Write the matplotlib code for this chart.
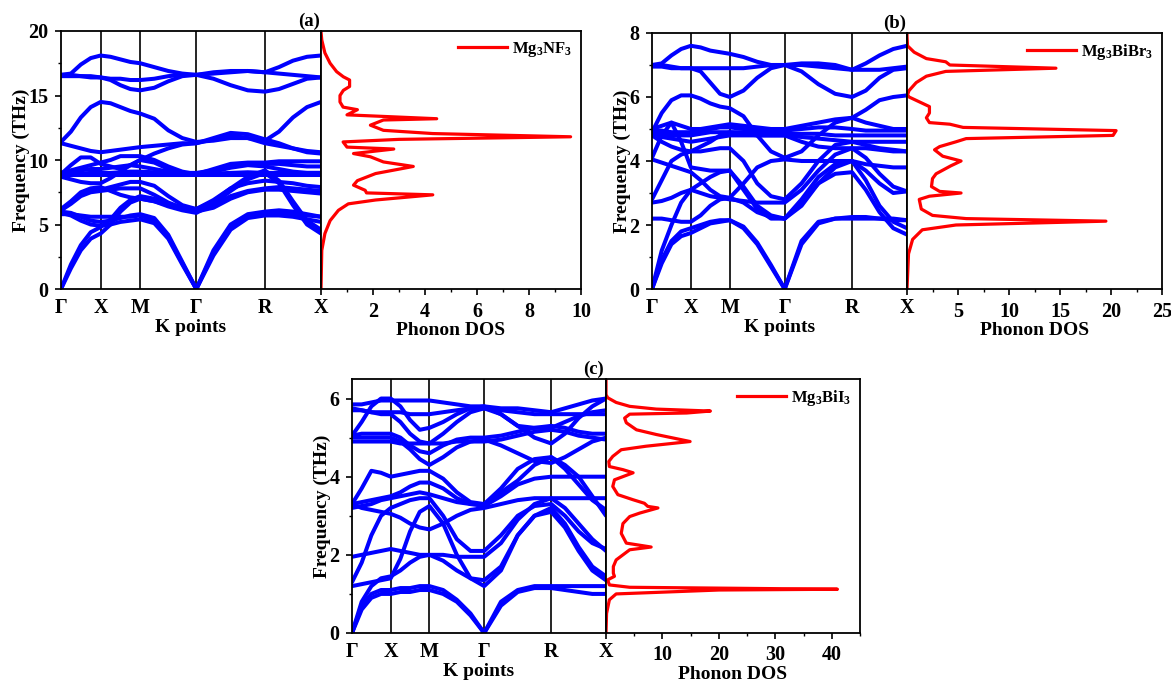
import numpy as np
import matplotlib
matplotlib.use("Agg")
import matplotlib.pyplot as plt
from matplotlib.ticker import MultipleLocator

plt.rcParams['font.family'] = ['Liberation Serif', 'DejaVu Serif']
plt.rcParams['font.weight'] = 'bold'
plt.rcParams['mathtext.fontset'] = 'custom'
plt.rcParams['mathtext.bf'] = 'Liberation Serif:bold'
plt.rcParams['mathtext.rm'] = 'Liberation Serif:bold'
plt.rcParams['mathtext.default'] = 'bf'

# ---------------- data ----------------
kpoint_labels = ['Γ', 'X', 'M', 'Γ', 'R', 'X']
segment_lengths = [0.5, 0.5, 0.7071, 0.8660, 0.7071]

# panel (a) Mg3NF3 : 21 samples along Γ-X-M-Γ-R-X (5 per segment)
bands_a = [
    [0, 1.6, 3.0, 3.9, 4.3, 5.0, 6.0, 6.7, 7.0, 6.8, 6.5, 6.2, 6.0, 6.3, 7.0, 7.5, 7.7, 7.7, 7.6, 7.5, 7.4],
    [0, 1.9, 3.4, 4.4, 4.8, 5.4, 6.3, 6.9, 7.2, 7.0, 6.6, 6.3, 6.1, 6.5, 7.2, 7.6, 7.8, 7.9, 7.8, 7.7, 7.6],
    [5.8, 5.8, 5.7, 5.6, 5.6, 5.6, 5.6, 5.6, 5.7, 5.3, 4.0, 2.0, 0, 2.8, 4.8, 5.7, 5.9, 5.9, 5.8, 5.7, 5.6],
    [5.9, 5.7, 5.3, 5.0, 4.9, 5.0, 5.2, 5.3, 5.4, 5.1, 3.9, 1.9, 0, 2.6, 4.6, 5.5, 5.7, 5.7, 5.6, 5.4, 5.2],
    [6.0, 5.9, 5.6, 5.3, 5.2, 5.3, 5.5, 5.7, 5.8, 5.5, 4.2, 2.1, 0, 3.0, 5.0, 5.8, 6.0, 6.1, 6.0, 5.8, 5.6],
    [6.1, 6.6, 7.2, 7.5, 7.6, 7.7, 7.8, 7.8, 7.8, 7.3, 6.7, 6.3, 6.2, 6.8, 7.8, 8.7, 9.2, 8.4, 6.8, 5.3, 4.6],
    [6.2, 6.8, 7.5, 7.8, 7.9, 7.6, 7.3, 7.1, 7.0, 6.8, 6.4, 6.1, 5.9, 6.6, 7.6, 8.5, 9.0, 8.2, 6.5, 5.0, 4.3],
    [6.1, 6.7, 7.3, 7.6, 7.7, 7.9, 8.1, 8.3, 8.3, 8.0, 7.2, 6.5, 6.2, 6.9, 7.8, 8.2, 8.4, 8.3, 8.2, 8.0, 7.9],
    [8.8, 8.8, 8.8, 8.8, 8.8, 8.8, 8.8, 8.8, 8.8, 8.8, 8.8, 8.8, 8.8, 8.8, 8.8, 8.8, 8.8, 8.8, 8.8, 8.8, 8.8],
    [8.9, 8.9, 8.95, 9.0, 9.0, 9.0, 9.05, 9.1, 9.1, 9.05, 9.0, 8.95, 8.9, 8.95, 9.0, 9.05, 9.0, 9.0, 9.0, 9.0, 9.0],
    [8.9, 9.6, 10.2, 10.2, 9.7, 9.5, 9.3, 9.6, 10.0, 9.8, 9.3, 9.0, 9.0, 9.2, 9.5, 9.7, 9.7, 9.7, 9.6, 9.5, 9.5],
    [9.0, 9.2, 9.4, 9.6, 9.8, 10.0, 10.3, 10.3, 10.3, 10.0, 9.5, 9.1, 8.9, 9.3, 9.7, 9.8, 9.8, 9.9, 9.9, 9.9, 9.9],
    [8.9, 9.0, 9.2, 9.3, 9.3, 9.4, 9.5, 9.6, 9.5, 9.3, 9.1, 9.0, 8.9, 9.1, 9.4, 9.6, 9.5, 9.3, 9.1, 9.0, 9.0],
    [8.7, 8.5, 8.3, 8.2, 8.2, 8.6, 9.1, 9.6, 10.0, 10.5, 10.9, 11.2, 11.3, 11.6, 11.9, 11.7, 11.3, 11.1, 10.9, 10.7, 10.6],
    [11.3, 11.1, 10.9, 10.7, 10.6, 10.7, 10.8, 10.9, 11.0, 11.1, 11.2, 11.3, 11.3, 11.7, 12.1, 12.0, 11.6, 11.3, 10.9, 10.6, 10.5],
    [11.4, 12.2, 13.3, 14.1, 14.5, 14.4, 14.1, 13.8, 13.6, 13.2, 12.3, 11.7, 11.4, 11.5, 11.7, 11.7, 11.5, 12.2, 13.3, 14.1, 14.5],
    [16.5, 16.5, 16.5, 16.4, 16.4, 16.3, 16.3, 16.2, 16.2, 16.3, 16.5, 16.6, 16.6, 16.7, 16.8, 16.9, 16.8, 16.7, 16.6, 16.5, 16.4],
    [16.6, 16.6, 16.5, 16.5, 16.4, 16.2, 15.8, 15.5, 15.4, 15.6, 16.1, 16.5, 16.6, 16.3, 15.8, 15.4, 15.3, 15.5, 15.9, 16.3, 16.4],
    [16.6, 16.7, 17.4, 17.9, 18.1, 18.0, 17.8, 17.6, 17.5, 17.2, 16.9, 16.7, 16.6, 16.8, 16.9, 16.9, 16.8, 17.2, 17.7, 18.0, 18.1],
]
dos_a_freq = [0, 3.0, 4.3, 5.3, 6.1, 6.6, 6.9, 7.3, 7.45, 7.65, 8.05, 8.4, 8.95, 9.5, 9.85, 10.25,
              10.5, 10.85, 11.0, 11.4, 11.6, 11.8, 12.05, 12.3, 12.7, 13.1, 13.2, 13.5, 13.9, 14.1,
              14.5, 15.0, 15.4, 15.7, 16.2, 16.45, 16.85, 17.5, 18.3, 19.3, 19.95, 20.0]
dos_a_val = [0, 0.03, 0.15, 0.35, 0.67, 1.05, 2.1, 4.3, 1.75, 1.7, 1.25, 1.4, 2.1, 3.55, 2.4, 1.9,
             1.25, 2.8, 1.0, 0.85, 3.0, 9.6, 4.3, 2.4, 1.9, 2.4, 4.45, 1.0, 1.4, 0.85,
             0.73, 0.73, 0.86, 1.1, 1.1, 0.86, 0.6, 0.35, 0.15, 0.03, 0.0, 0.0]

# panel (b) Mg3BiBr3
bands_b = [
    [0, 0.8, 1.4, 1.65, 1.75, 1.9, 2.05, 2.1, 2.15, 1.9, 1.4, 0.7, 0, 1.4, 2.05, 2.2, 2.2, 2.2, 2.2, 2.15, 2.15],
    [0, 0.9, 1.5, 1.8, 1.9, 2.0, 2.1, 2.15, 2.15, 1.95, 1.45, 0.75, 0, 1.5, 2.1, 2.2, 2.25, 2.25, 2.2, 2.2, 2.15],
    [0, 1.2, 2.0, 2.7, 3.1, 3.3, 3.5, 3.65, 3.7, 3.1, 2.5, 2.2, 2.2, 2.6, 3.3, 3.6, 3.65, 3.1, 2.4, 1.9, 1.7],
    [2.2, 2.2, 2.15, 2.1, 2.1, 2.3, 2.6, 2.8, 2.85, 2.7, 2.4, 2.25, 2.2, 2.7, 3.3, 3.8, 4.0, 3.4, 2.6, 2.1, 1.9],
    [2.7, 2.75, 2.85, 3.0, 3.1, 3.0, 2.9, 2.85, 2.8, 2.75, 2.7, 2.7, 2.7, 3.1, 3.7, 4.2, 4.4, 4.1, 3.6, 3.2, 3.05],
    [2.8, 3.4, 4.0, 4.2, 4.3, 4.3, 4.35, 4.4, 4.4, 4.0, 3.3, 2.9, 2.8, 3.3, 4.0, 4.5, 4.6, 4.5, 4.4, 4.35, 4.3],
    [4.05, 3.95, 3.85, 3.75, 3.65, 3.4, 3.1, 2.9, 2.85, 3.3, 3.8, 4.0, 4.05, 4.0, 4.0, 4.0, 4.0, 3.9, 3.85, 3.8, 3.8],
    [4.1, 4.8, 5.2, 4.6, 3.8, 3.75, 3.7, 3.7, 3.7, 3.2, 2.6, 2.3, 2.2, 2.8, 3.5, 3.9, 4.0, 3.7, 3.3, 3.0, 3.05],
    [4.9, 5.5, 5.9, 6.05, 6.05, 5.95, 5.8, 5.7, 5.65, 5.4, 4.8, 4.3, 4.1, 4.3, 4.8, 5.2, 5.35, 5.6, 5.9, 6.0, 6.05],
    [4.8, 4.75, 4.7, 4.65, 4.6, 4.65, 4.7, 4.75, 4.8, 4.8, 4.8, 4.8, 4.8, 4.75, 4.7, 4.65, 4.6, 4.6, 4.6, 4.6, 4.6],
    [4.85, 4.85, 4.8, 4.8, 4.8, 4.85, 4.9, 4.9, 4.9, 4.9, 4.85, 4.85, 4.85, 4.85, 4.85, 4.8, 4.8, 4.8, 4.8, 4.8, 4.8],
    [4.95, 4.95, 4.9, 4.9, 4.9, 4.95, 5.0, 5.05, 5.05, 5.0, 4.95, 4.95, 4.95, 5.0, 5.05, 5.05, 5.0, 4.95, 4.95, 4.95, 4.95],
    [5.0, 5.1, 5.2, 5.1, 5.0, 5.0, 5.05, 5.1, 5.15, 5.1, 5.05, 5.0, 5.0, 5.1, 5.2, 5.3, 5.35, 5.2, 5.1, 5.0, 5.0],
    [4.8, 4.6, 4.45, 4.35, 4.3, 4.45, 4.6, 4.8, 4.9, 4.85, 4.8, 4.8, 4.8, 4.6, 4.45, 4.4, 4.4, 4.4, 4.35, 4.3, 4.3],
    [6.95, 6.95, 6.9, 6.9, 6.9, 6.9, 6.9, 6.9, 6.9, 6.9, 6.95, 7.0, 7.0, 7.0, 6.95, 6.9, 6.85, 6.85, 6.85, 6.9, 6.95],
    [7.0, 7.0, 6.95, 6.9, 6.9, 6.8, 6.45, 6.1, 6.0, 6.2, 6.6, 6.9, 7.0, 6.8, 6.4, 6.1, 6.0, 6.2, 6.6, 6.85, 6.9],
    [7.0, 7.05, 7.3, 7.5, 7.6, 7.55, 7.45, 7.4, 7.35, 7.25, 7.1, 7.0, 7.0, 7.05, 7.05, 7.0, 6.85, 7.05, 7.3, 7.5, 7.6],
]
dos_b_freq = [0, 1.1, 1.55, 1.85, 2.0, 2.12, 2.2, 2.3, 2.5, 2.8, 2.9, 3.0, 3.05, 3.2, 3.45, 3.6,
              3.85, 4.0, 4.15, 4.35, 4.45, 4.6, 4.7, 4.8, 4.95, 5.05, 5.15, 5.2, 5.35, 5.5, 5.7,
              5.85, 6.0, 6.07, 6.2, 6.45, 6.65, 6.8, 6.9, 7.0, 7.1, 7.2, 7.4, 7.6, 7.9, 8.0]
dos_b_val = [0, 0.15, 0.55, 1.5, 4.8, 19.5, 5.8, 2.5, 1.4, 1.2, 2.2, 5.3, 3.2, 2.4, 2.5, 2.85,
             4.3, 5.3, 3.5, 2.7, 3.2, 4.8, 5.8, 20.2, 20.5, 5.5, 4.2, 2.2, 1.9, 2.2, 2.2,
             1.2, 0.2, 0.05, 0.2, 0.9, 1.9, 3.8, 14.6, 4.2, 3.8, 1.9, 0.7, 0.05, 0.0, 0.0]

# panel (c) Mg3BiI3
bands_c = [
    [0, 0.6, 0.9, 1.0, 1.0, 1.05, 1.05, 1.1, 1.1, 1.0, 0.8, 0.45, 0, 0.7, 1.05, 1.15, 1.15, 1.1, 1.05, 1.0, 1.0],
    [0, 0.7, 1.0, 1.1, 1.1, 1.15, 1.15, 1.2, 1.2, 1.1, 0.85, 0.5, 0, 0.8, 1.1, 1.2, 1.2, 1.2, 1.2, 1.2, 1.2],
    [0, 0.8, 1.2, 1.4, 1.45, 1.6, 1.8, 1.95, 2.0, 1.85, 1.6, 1.4, 1.35, 1.7, 2.5, 3.0, 3.2, 2.8, 2.2, 1.7, 1.45],
    [1.2, 1.25, 1.3, 1.35, 1.4, 1.9, 2.6, 3.1, 3.25, 2.8, 2.0, 1.4, 1.2, 1.6, 2.5, 3.0, 3.1, 2.7, 2.1, 1.6, 1.35],
    [1.3, 1.8, 2.5, 3.0, 3.2, 3.3, 3.4, 3.45, 3.45, 3.0, 2.4, 2.1, 2.1, 2.5, 3.0, 3.25, 3.3, 3.0, 2.6, 2.3, 2.15],
    [1.95, 2.0, 2.05, 2.1, 2.15, 2.1, 2.05, 2.0, 2.0, 2.0, 1.95, 1.95, 1.95, 2.3, 2.9, 3.3, 3.45, 3.2, 2.8, 2.4, 2.1],
    [3.3, 3.2, 3.15, 3.1, 3.05, 2.95, 2.8, 2.7, 2.65, 2.8, 3.0, 3.15, 3.2, 3.3, 3.4, 3.45, 3.45, 3.45, 3.45, 3.45, 3.45],
    [3.2, 3.25, 3.3, 3.4, 3.45, 3.5, 3.55, 3.6, 3.55, 3.45, 3.35, 3.3, 3.3, 3.6, 3.9, 4.3, 4.5, 4.2, 3.8, 3.4, 3.15],
    [3.3, 3.7, 4.15, 4.1, 4.0, 4.05, 4.1, 4.15, 4.15, 3.95, 3.6, 3.35, 3.3, 3.7, 4.2, 4.45, 4.5, 4.3, 4.0, 3.5, 3.0],
    [3.3, 3.35, 3.4, 3.45, 3.5, 3.6, 3.75, 3.85, 3.85, 3.7, 3.45, 3.3, 3.25, 3.5, 3.8, 3.95, 4.0, 4.0, 4.0, 4.0, 4.0],
    [4.9, 4.9, 4.9, 4.9, 4.9, 4.85, 4.85, 4.85, 4.85, 4.85, 4.9, 4.9, 4.9, 4.95, 5.05, 5.15, 5.2, 5.15, 5.05, 5.0, 4.95],
    [5.0, 5.0, 5.0, 5.0, 5.0, 4.9, 4.7, 4.45, 4.3, 4.5, 4.75, 4.9, 4.95, 4.8, 4.6, 4.4, 4.35, 4.5, 4.7, 4.9, 5.0],
    [5.05, 5.1, 5.1, 5.1, 5.1, 5.0, 4.8, 4.65, 4.6, 4.8, 4.95, 5.0, 5.0, 5.05, 5.15, 5.25, 5.3, 5.25, 5.15, 5.1, 5.1],
    [5.05, 5.4, 5.8, 6.0, 6.0, 5.8, 5.45, 5.2, 5.25, 5.4, 5.6, 5.75, 5.8, 5.6, 5.3, 5.0, 4.85, 5.1, 5.5, 5.8, 6.0],
    [5.85, 5.85, 5.9, 5.95, 5.95, 5.95, 5.95, 5.95, 5.95, 5.9, 5.85, 5.8, 5.8, 5.75, 5.75, 5.7, 5.65, 5.75, 5.85, 5.95, 6.0],
    [5.75, 5.7, 5.65, 5.65, 5.65, 5.65, 5.6, 5.6, 5.6, 5.65, 5.7, 5.75, 5.75, 5.7, 5.65, 5.6, 5.6, 5.6, 5.6, 5.6, 5.6],
    [5.7, 5.7, 5.65, 5.6, 5.6, 5.4, 5.1, 4.9, 4.85, 5.1, 5.4, 5.65, 5.75, 5.6, 5.3, 5.25, 5.25, 5.4, 5.55, 5.65, 5.7],
]
dos_c_freq = [0, 0.5, 0.85, 1.0, 1.1, 1.12, 1.17, 1.23, 1.36, 1.45, 1.53, 1.7, 1.87, 2.13, 2.2, 2.3,
              2.55, 2.8, 2.98, 3.07, 3.2, 3.24, 3.32, 3.41, 3.54, 3.75, 3.92, 4.1, 4.18, 4.26, 4.39,
              4.52, 4.69, 4.78, 4.9, 4.99, 5.08, 5.2, 5.38, 5.5, 5.6, 5.63, 5.68, 5.73, 5.8, 5.9,
              6.02, 6.1, 6.5]
dos_c_val = [0, 0.1, 0.6, 1.8, 20.0, 41.0, 4.2, 0.6, 0.3, 1.5, 1.3, 1.3, 1.8, 4.2, 8.0, 3.6,
             2.7, 3.0, 4.2, 6.0, 9.2, 7.4, 6.8, 4.8, 2.1, 1.2, 1.5, 4.8, 3.0, 0.6, 0.5,
             1.2, 2.7, 7.1, 14.9, 11.9, 8.9, 5.4, 3.6, 3.3, 4.2, 14.3, 18.5, 8.9, 4.2, 1.8,
             0.3, 0.0, 0.0]

panels = [
    dict(tag='(a)', label=r'Mg$_3$NF$_3$', bands=bands_a, dfreq=dos_a_freq, dval=dos_a_val,
         ylim=20, ymaj=5, ymin=2.5, xlim=10, xmaj=2, xmin=1,
         band_rect=[61, 321, 31, 289], dos_right=581),
    dict(tag='(b)', label=r'Mg$_3$BiBr$_3$', bands=bands_b, dfreq=dos_b_freq, dval=dos_b_val,
         ylim=8, ymaj=2, ymin=1, xlim=25, xmaj=5, xmin=2.5,
         band_rect=[652, 907, 33, 289], dos_right=1162),
    dict(tag='(c)', label=r'Mg$_3$BiI$_3$', bands=bands_c, dfreq=dos_c_freq, dval=dos_c_val,
         ylim=6.5, ymaj=2, ymin=1, xlim=45, xmaj=10, xmin=5,
         band_rect=[352, 606, 379, 633], dos_right=860),
]

W, H = 1171, 682
fig = plt.figure(figsize=(W / 100, H / 100), dpi=100)

nodes = np.concatenate([[0], np.cumsum(segment_lengths)])
frac = np.array([0.25, 0.5, 0.75, 1.0])
kx = np.concatenate([[0]] + [nodes[i] + segment_lengths[i] * frac for i in range(5)])

BLUE = '#0000ff'
RED = '#ff0000'
TFS = 14.5   # tick labels
LFS = 14     # axis labels

for p in panels:
    l, r, t, b = p['band_rect']
    axb = fig.add_axes([l / W, 1 - b / H, (r - l) / W, (b - t) / H])
    axd = fig.add_axes([r / W, 1 - b / H, (p['dos_right'] - r) / W, (b - t) / H])

    for band in p['bands']:
        axb.plot(kx, band, color=BLUE, lw=2.9, solid_capstyle='round', solid_joinstyle='round')
    for xn in nodes[1:-1]:
        axb.axvline(xn, color='black', lw=1.2, zorder=0.5)
    axb.set_xlim(0, nodes[-1])
    axb.set_ylim(0, p['ylim'])
    axb.set_xticks(nodes)
    axb.set_xticklabels(kpoint_labels, fontsize=TFS, fontweight='bold')
    axb.tick_params(axis='x', length=0, pad=6.5)
    axb.yaxis.set_major_locator(MultipleLocator(p['ymaj']))
    axb.yaxis.set_minor_locator(MultipleLocator(p['ymin']))
    axb.tick_params(axis='y', which='major', direction='out', length=4, width=1.2,
                    labelsize=TFS, pad=5)
    axb.tick_params(axis='y', which='minor', direction='out', length=2.5, width=1.0)
    for lab in axb.get_yticklabels():
        lab.set_fontweight('bold')
    axb.set_ylabel('Frequency (THz)', fontsize=LFS, fontweight='bold', labelpad=-1)
    axb.set_xlabel('K points', fontsize=LFS, fontweight='bold', labelpad=1)
    for s in axb.spines.values():
        s.set_linewidth(1.3)

    axd.plot(p['dval'], p['dfreq'], color=RED, lw=2.3, label=p['label'])
    axd.set_xlim(0, p['xlim'])
    axd.set_ylim(0, p['ylim'])
    axd.set_yticks([])
    axd.xaxis.set_major_locator(MultipleLocator(p['xmaj']))
    axd.xaxis.set_minor_locator(MultipleLocator(p['xmin']))
    axd.tick_params(axis='x', which='major', direction='out', length=4, width=1.2,
                    labelsize=TFS, pad=5)
    axd.tick_params(axis='x', which='minor', direction='out', length=2.5, width=1.0)
    ticks = np.arange(p['xmaj'], p['xlim'] + 1e-9, p['xmaj'])
    axd.set_xticks(np.concatenate([[0], ticks]))
    axd.set_xticklabels([''] + ['%g' % v for v in ticks], fontweight='bold')
    axd.set_xlabel('Phonon DOS', fontsize=LFS, fontweight='bold', labelpad=0.5)
    for s in axd.spines.values():
        s.set_linewidth(1.3)
    axd.legend(loc='upper right', frameon=False, fontsize=12, handlelength=2.9,
               borderaxespad=0.25, handletextpad=0.3, borderpad=0.3)

    fig.text((r - 12) / W, 1 - (t - 10) / H, p['tag'], fontsize=13.5, fontweight='bold',
             ha='center', va='center')

fig.savefig('out.png', dpi=100)
